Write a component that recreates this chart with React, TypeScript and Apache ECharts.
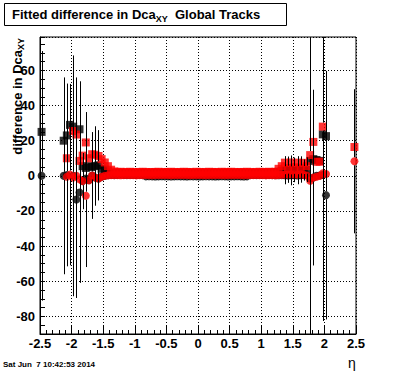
import React, { useEffect, useRef } from "react";
import * as echarts from "echarts";

// Histogram binning in eta: 100 bins of width 0.05 from -2.5 to 2.5
const BIN_LOW = -2.5;
const BIN_WIDTH = 0.05;

const X_MIN = -2.5;
const X_MAX = 2.5;
const X_STEP = 0.5;
const Y_MIN = -90;
const Y_MAX = 79;
const Y_LABEL_STEP = 20;

const TITLE_MAIN = "Fitted difference in Dca";
const TITLE_SUB = "XY";
const TITLE_TAIL = "  Global Tracks";
const Y_TITLE_MAIN = "difference in Dca";
const Y_TITLE_SUB = "XY";
const X_TITLE = "η";
const DATE_TEXT = "Sat Jun  7 10:42:53 2014";

// values per bin (index 0..99), null = empty bin
const blackSquares: (number | null)[] = [
  25, null, null, null, null, null, null, 20, 23, 29,
  28, null, 26.5, 5.5, 4.5, 5.5, 5, 5.6, 6, 4,
  3.5, 2.5, 1.6, 1.4, 1.5, 1.7, 1.3, 1.5, 1.6, 1.4,
  1.5, 1.5, 1.6, 1.4, 1.3, 1.5, 1.6, 1.5, 1.4, 1.5,
  1.6, 1.5, 1.4, 1.6, 1.5, 1.3, 1.5, 1.4, 1.6, 1.5,
  1.5, 1.4, 1.6, 1.5, 1.3, 1.5, 1.6, 1.4, 1.5, 1.5,
  1.6, 1.4, 1.5, 1.7, 1.5, 1.4, 1.6, 1.5, 1.5, 1.6,
  1.4, 1.7, 1.8, 1.9, 2, 2.3, 2.8, 3.2, 3.5, 3.1,
  3.4, 3.2, 3.6, 3.3, 3.5, 8.5, 9.5, 9, 8.5, 23.6,
  22.6, null, null, null, null, null, null, null, null, null,
];

const blackCircles: (number | null)[] = [
  0, null, null, null, null, null, null, 0, 0.5, null,
  0, -13.5, -9.5, -3, -1.5, -2.5, 0.2, -1, -1.5, -0.5,
  0, 0.3, 0.5, 0.4, 0.5, 0.6, 0.5, 0.4, 0.5, 0.5,
  0.4, 0.5, 0.4, -0.3, -0.2, -0.3, -0.4, -0.3, -0.2, -0.3,
  -0.3, -0.4, -0.3, -0.2, -0.3, -0.3, -0.4, -0.2, -0.3, -0.3,
  -0.4, -0.3, -0.2, -0.3, -0.3, -0.4, -0.3, -0.2, -0.3, -0.4,
  -0.3, -0.3, -0.2, -0.3, -0.4, -0.3, 0.4, 0.5, 0.4, 0.5,
  0.5, 0.4, 0.5, 0.4, 0.3, 0.3, 0.4, 0.3, 0.2, 0.3,
  0.3, 0.2, 0.3, 0.4, 0.3, -1.5, -1, 0, 0.2, 0.5,
  -11, null, null, null, null, null, null, null, null, null,
];

const redSquares: (number | null)[] = [
  null, null, null, null, null, null, null, null, 10, null,
  25.5, 23.5, 8.5, 11.5, 19, 10, 12.3, 12, 11.3, 9.5,
  7.6, 5.5, 3.5, 2.5, 2.2, 2.3, 2.1, 2.2, 2.3, 2.2,
  2.1, 2.2, 2.3, 2.2, 2.1, 2.2, 2.2, 2.3, 2.1, 2.2,
  2.2, 2.3, 2.2, 2.1, 2.2, 2.3, 2.2, 2.2, 2.1, 2.3,
  2.2, 2.1, 2.2, 2.3, 2.2, 2.2, 2.1, 2.3, 2.2, 2.2,
  2.3, 2.2, 2.1, 2.2, 2.2, 2.3, 2.2, 2.1, 2.2, 2.3,
  2.2, 2.2, 2.3, 2.2, 2.3, 4, 5.5, 7.5, 4.5, 7.6,
  4.8, 7.5, 4.6, 7.4, 5.5, 11.8, 19.3, 8, 8, 28,
  null, null, null, null, null, null, null, null, null, 16.4,
];

const redCircles: (number | null)[] = [
  null, null, null, null, null, null, null, null, -0.5, 0.7,
  -1, 0, -2, -3, -11.3, -2.5, 0.2, -1, -1.5, -0.5,
  0, 0.3, 0.4, 0.4, 0.4, 0.3, 0.4, 0.5, 0.4, 0.4,
  0.3, 0.4, 0.4, 0.5, 0.4, 0.3, 0.4, 0.4, 0.5, 0.4,
  0.4, 0.3, 0.4, 0.4, 0.5, 0.4, 0.4, 0.3, 0.4, 0.4,
  0.5, 0.4, 0.3, 0.4, 0.4, 0.4, 0.5, 0.4, 0.3, 0.4,
  0.4, 0.4, 0.5, 0.4, 0.3, 0.4, 0.4, 0.4, 0.5, 0.4,
  0.4, 0.3, 0.4, 0.4, 0.3, 0.5, 0.6, 0.8, 0.7, 0.9,
  0.8, 0.7, 0.9, 0.6, 0.2, -2.8, -1, -0.5, 0, 1.5,
  1, null, null, null, null, null, null, null, null, 8.3,
];

// [bin index, error]
const blackSquareErrors: [number, number][] = [
  [17, 22.6], [18, 20], [77, 8], [78, 7.5], [79, 8.5], [80, 7], [81, 8], [82, 7.5], [83, 6], [84, 7],
];
const blackCircleErrors: [number, number][] = [
  [0, 71], [7, 56], [8, 52], [10, 68.5], [11, 56], [12, 51.4], [13, 16], [90, 70.7],
];
const redSquareErrors: [number, number][] = [
  [14, 17.3], [85, 150], [89, 110.6],
];
const redCircleErrors: [number, number][] = [
  [9, 51.6], [11, 56], [12, 55.8], [14, 40.6], [16, 24.7], [86, 50], [99, 41],
];

const FONT = '"Liberation Sans", Arial, Helvetica, sans-serif';
const MAIN_FONT = `bold 13px ${FONT}`;
const SUB_FONT = `bold 9px ${FONT}`;
const MARKER = 8;

function binCenter(i: number) {
  return BIN_LOW + BIN_WIDTH * (i + 0.5);
}

function toPoints(vals: (number | null)[]) {
  const out: [number, number][] = [];
  vals.forEach((v, i) => {
    if (v !== null) out.push([binCenter(i), v]);
  });
  return out;
}

function toErrors(vals: (number | null)[], errs: [number, number][]) {
  return errs
    .filter(([i]) => vals[i] !== null)
    .map(([i, e]) => [binCenter(i), vals[i] as number, e]);
}

const errorData = [
  ...toErrors(blackCircles, blackCircleErrors),
  ...toErrors(blackSquares, blackSquareErrors),
  ...toErrors(redCircles, redCircleErrors),
  ...toErrors(redSquares, redSquareErrors),
];

function measure(text: string, font: string) {
  const ctx = document.createElement("canvas").getContext("2d");
  if (!ctx) return text.length * 7;
  ctx.font = font;
  return ctx.measureText(text).width;
}

function renderError(params: any, api: any) {
  const x = api.value(0);
  const v = api.value(1);
  const e = api.value(2);
  const c = api.coord([x, v]);
  const hi = api.coord([x, v + e]);
  const lo = api.coord([x, v - e]);
  const px = Math.round(c[0]) + 0.5;
  const gap = MARKER / 2;
  const children: any[] = [];
  const style = { stroke: "#000", lineWidth: 1 };
  if (hi[1] < c[1] - gap) {
    children.push({ type: "line", shape: { x1: px, y1: c[1] - gap, x2: px, y2: hi[1] }, style });
  }
  if (lo[1] > c[1] + gap) {
    children.push({ type: "line", shape: { x1: px, y1: c[1] + gap, x2: px, y2: lo[1] }, style });
  }
  return { type: "group", children };
}

const richMain = { fontSize: 13, fontWeight: "bold", fontFamily: FONT, fill: "#000", lineHeight: 17, verticalAlign: "middle" };
const richSub = { fontSize: 9, fontWeight: "bold", fontFamily: FONT, fill: "#000", lineHeight: 10, verticalAlign: "bottom" };

function buildOption(): any {
  const wSub = measure(Y_TITLE_SUB, SUB_FONT);
  return {
    animation: false,
    backgroundColor: "#fff",
    grid: {
      left: 40,
      right: 40,
      top: 37,
      bottom: 38,
      show: true,
      borderColor: "#000",
      borderWidth: 1,
      backgroundColor: "transparent",
    },
    xAxis: {
      type: "value",
      min: X_MIN,
      max: X_MAX,
      interval: X_STEP,
      axisLine: { show: true, onZero: false, lineStyle: { color: "#000", width: 1 } },
      axisTick: { show: true, inside: true, length: 8, lineStyle: { color: "#000", width: 1 } },
      minorTick: { show: true, splitNumber: 5, length: 4, lineStyle: { color: "#000", width: 1 } },
      splitLine: { show: true, lineStyle: { color: "#000", width: 1, type: [1, 2] } },
      minorSplitLine: { show: false },
      axisLabel: { color: "#000", fontSize: 13, fontWeight: "bold", fontFamily: FONT, margin: 3 },
    },
    yAxis: {
      type: "value",
      min: Y_MIN,
      max: Y_MAX,
      interval: 10,
      axisLine: { show: true, onZero: false, lineStyle: { color: "#000", width: 1 } },
      axisTick: { show: true, inside: true, length: 5, lineStyle: { color: "#000", width: 1 } },
      minorTick: { show: true, splitNumber: 2, length: 5, lineStyle: { color: "#000", width: 1 } },
      splitLine: { show: true, lineStyle: { color: ["rgba(0,0,0,0)", "#000"], width: 1, type: [1, 2] } },
      axisLabel: {
        color: "#000",
        fontSize: 13,
        fontWeight: "bold",
        fontFamily: FONT,
        margin: 5,
        formatter: (v: number) => (Math.abs(v % Y_LABEL_STEP) < 1e-9 ? String(v) : ""),
      },
    },
    series: [
      {
        type: "scatter",
        data: toPoints(blackCircles),
        symbol: "circle",
        symbolSize: MARKER,
        itemStyle: { color: "#000" },
        silent: true,
        z: 2,
      },
      {
        type: "scatter",
        data: toPoints(blackSquares),
        symbol: "rect",
        symbolSize: MARKER,
        itemStyle: { color: "#000" },
        silent: true,
        z: 3,
      },
      {
        type: "scatter",
        data: toPoints(redCircles),
        symbol: "circle",
        symbolSize: MARKER,
        itemStyle: { color: "#ff0000" },
        silent: true,
        z: 4,
      },
      {
        type: "scatter",
        data: toPoints(redSquares),
        symbol: "rect",
        symbolSize: MARKER,
        itemStyle: { color: "#ff0000" },
        silent: true,
        z: 5,
      },
      {
        type: "custom",
        data: errorData,
        renderItem: renderError,
        encode: { x: 0, y: 1 },
        clip: true,
        silent: true,
        z: 6,
      },
    ],
    graphic: [
      {
        type: "rect",
        shape: { x: 4.5, y: 3.5, width: 282, height: 22 },
        style: { fill: "#fff", stroke: "#000", lineWidth: 1 },
        z: 10,
      },
      {
        type: "text",
        x: 12,
        y: 6,
        z: 11,
        style: {
          text: `{a|${TITLE_MAIN}}{b|${TITLE_SUB}}{a|${TITLE_TAIL}}`,
          rich: { a: richMain, b: richSub },
          align: "left",
          textAlign: "left",
          verticalAlign: "top",
          textVerticalAlign: "top",
        },
      },
      {
        type: "text",
        x: 17,
        y: 38 + wSub,
        rotation: Math.PI / 2,
        z: 11,
        style: {
          text: Y_TITLE_MAIN,
          font: MAIN_FONT,
          fill: "#000",
          align: "right",
          textAlign: "right",
          verticalAlign: "middle",
          textVerticalAlign: "middle",
        },
      },
      {
        type: "text",
        x: 21,
        y: 38,
        rotation: Math.PI / 2,
        z: 11,
        style: {
          text: Y_TITLE_SUB,
          font: SUB_FONT,
          fill: "#000",
          align: "right",
          textAlign: "right",
          verticalAlign: "middle",
          textVerticalAlign: "middle",
        },
      },
      {
        type: "text",
        x: 352,
        y: 363,
        z: 11,
        style: {
          text: X_TITLE,
          font: `14px ${FONT}`,
          fill: "#000",
          align: "center",
          textAlign: "center",
          verticalAlign: "middle",
          textVerticalAlign: "middle",
        },
      },
      {
        type: "text",
        x: 3,
        y: 364,
        z: 11,
        style: {
          text: DATE_TEXT,
          font: `bold 8px ${FONT}`,
          fill: "#000",
          align: "left",
          textAlign: "left",
          verticalAlign: "middle",
          textVerticalAlign: "middle",
        },
      },
    ],
  };
}

export default function App() {
  const ref = useRef<HTMLDivElement>(null);
  useEffect(() => {
    if (!ref.current) return;
    const chart = echarts.init(ref.current, undefined, { renderer: "svg" });
    chart.setOption(buildOption());
    return () => {
      chart.dispose();
    };
  }, []);
  return (
    <div
      ref={ref}
      style={{ position: "absolute", left: 0, top: 0, width: 396, height: 372, background: "#fff" }}
    />
  );
}
